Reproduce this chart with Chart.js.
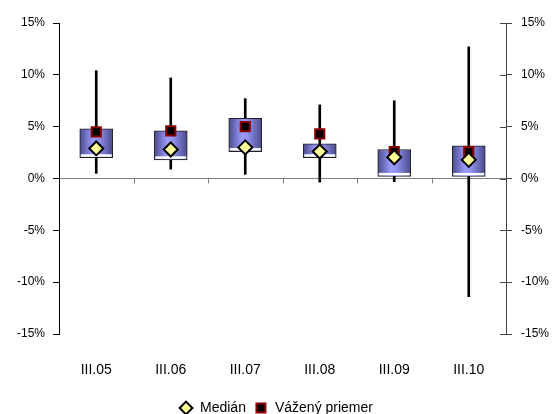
<!DOCTYPE html>
<html>
<head>
<meta charset="utf-8">
<script src="https://cdn.jsdelivr.net/npm/chart.js@4.4.1/dist/chart.umd.min.js"></script>
<style>
  html, body { margin: 0; padding: 0; background: #fff; }
  #wrap { width: 552px; height: 414px; }
</style>
</head>
<body>
<div id="wrap"><canvas id="chart"></canvas></div>
<script>
const categories = ['III.05', 'III.06', 'III.07', 'III.08', 'III.09', 'III.10'];
const whiskerLow = [0.5, 0.9, 0.4, -0.35, -0.3, -11.4];
const whiskerHigh = [10.4, 9.7, 7.7, 7.1, 7.5, 12.7];
const boxLow = [2.0, 1.8, 2.6, 2.0, 0.2, 0.2];
const boxHigh = [4.8, 4.6, 5.8, 3.35, 2.8, 3.15];
const median = [2.9, 2.8, 3.0, 2.6, 2.05, 1.8];
const weighted = [4.5, 4.6, 5.0, 4.3, 2.6, 2.6];
const yTicks = [-15, -10, -5, 0, 5, 10, 15];

Chart.defaults.font.family = '"Liberation Sans", Arial, sans-serif';
Chart.defaults.color = '#000';

const BOX_W = 33;

function boxFill(c) {
  const sx = c.chart.scales.x;
  const x = sx ? sx.getPixelForValue(c.dataIndex) : NaN;
  if (!isFinite(x)) return '#8080d0';
  const g = c.chart.ctx.createLinearGradient(x - BOX_W / 2, 0, x + BOX_W / 2, 0);
  g.addColorStop(0, '#4a4a8a');
  g.addColorStop(0.4, '#9c9cff');
  g.addColorStop(0.55, '#9494f4');
  g.addColorStop(1, '#4a4a8a');
  return g;
}

// white strip at the bottom of each box, small ticks on the zero line,
// inner halves of the right axis ticks, legend pushed down a bit
const extras = {
  id: 'extras',
  afterLayout(chart) {
    chart.legend.top += 13;
    chart.legend.bottom += 13;
  },
  afterDatasetDraw(chart, args) {
    if (args.meta.label !== 'box') return;
    const ctx = chart.ctx;
    ctx.save();
    ctx.fillStyle = '#fff';
    args.meta.data.forEach(el => {
      const p = el.getProps(['x', 'base', 'width'], true);
      ctx.fillRect(p.x - p.width / 2 + 1, p.base - 3.5, p.width - 2, 2.5);
    });
    ctx.restore();
  },
  beforeDatasetsDraw(chart) {
    const ctx = chart.ctx;
    const x = chart.scales.x;
    const y = chart.scales.y;
    const y0 = y.getPixelForValue(0);
    ctx.save();
    ctx.strokeStyle = '#808080';
    ctx.lineWidth = 1;
    ctx.beginPath();
    for (let i = 1; i < categories.length; i++) {
      const px = Math.round((x.getPixelForValue(i - 1) + x.getPixelForValue(i)) / 2) + 0.5;
      ctx.moveTo(px, y0);
      ctx.lineTo(px, y0 + 5);
    }
    ctx.stroke();
    const y2 = chart.scales.y2;
    ctx.strokeStyle = '#444';
    ctx.beginPath();
    yTicks.forEach(v => {
      const py = Math.round(y2.getPixelForValue(v)) + 0.5;
      ctx.moveTo(y2.left - 6, py);
      ctx.lineTo(y2.left, py);
    });
    ctx.stroke();
    ctx.restore();
  }
};

new Chart(document.getElementById('chart'), {
  type: 'bar',
  data: {
    labels: categories,
    datasets: [
      {
        type: 'line',
        label: 'Medián',
        data: median,
        showLine: false,
        pointStyle: 'rectRot',
        pointRadius: 7,
        pointBackgroundColor: '#ffff99',
        pointBorderColor: '#000',
        pointBorderWidth: 2,
        backgroundColor: '#ffff99',
        borderColor: '#000',
        borderWidth: 2,
      },
      {
        type: 'line',
        label: 'Vážený priemer',
        data: weighted,
        showLine: false,
        pointStyle: 'rect',
        pointRadius: 6.5,
        pointBackgroundColor: '#000',
        pointBorderColor: '#8b0000',
        pointBorderWidth: 2,
        backgroundColor: '#000',
        borderColor: '#8b0000',
        borderWidth: 2,
      },
      {
        label: 'box',
        data: boxLow.map((v, i) => [v, boxHigh[i]]),
        backgroundColor: boxFill,
        borderColor: '#222',
        borderWidth: 1,
        borderSkipped: false,
        barThickness: BOX_W,
        grouped: false,
      },
      {
        label: 'whisker',
        data: whiskerLow.map((v, i) => [v, whiskerHigh[i]]),
        backgroundColor: '#000',
        borderWidth: 0,
        barThickness: 2,
        grouped: false,
      },
    ],
  },
  options: {
    responsive: true,
    maintainAspectRatio: false,
    animation: false,
    devicePixelRatio: 1,
    layout: { padding: { top: 23, bottom: 2 } },
    plugins: {
      tooltip: { enabled: false },
      legend: {
        position: 'bottom',
        labels: {
          usePointStyle: true,
          boxHeight: 9,
          padding: 8,
          font: { size: 14 },
          filter: item => item.text === 'Medián' || item.text === 'Vážený priemer',
        },
      },
    },
    scales: {
      x: {
        grid: { display: false, drawTicks: false },
        border: { display: false },
        ticks: { padding: 28, font: { size: 14 } },
        afterFit: s => { s.height = 46; },
      },
      y: {
        min: -15,
        max: 15,
        afterBuildTicks: s => { s.ticks = yTicks.map(v => ({ value: v })); },
        ticks: { callback: v => v + '%', font: { size: 12 }, padding: 8 },
        grid: {
          color: c => (c.tick && c.tick.value === 0 ? '#808080' : 'rgba(0,0,0,0)'),
          tickColor: '#000',
          tickLength: 6,
        },
        border: { color: '#000' },
        afterFit: s => { s.width = 59; },
      },
      y2: {
        position: 'right',
        min: -15,
        max: 15,
        afterBuildTicks: s => { s.ticks = yTicks.map(v => ({ value: v })); },
        ticks: { callback: v => v + '%', font: { size: 12 }, padding: 9 },
        grid: { drawOnChartArea: false, tickColor: '#444', tickLength: 6 },
        border: { color: '#444' },
        afterFit: s => { s.width = 46; },
      },
    },
  },
  plugins: [extras],
});
</script>
</body>
</html>
